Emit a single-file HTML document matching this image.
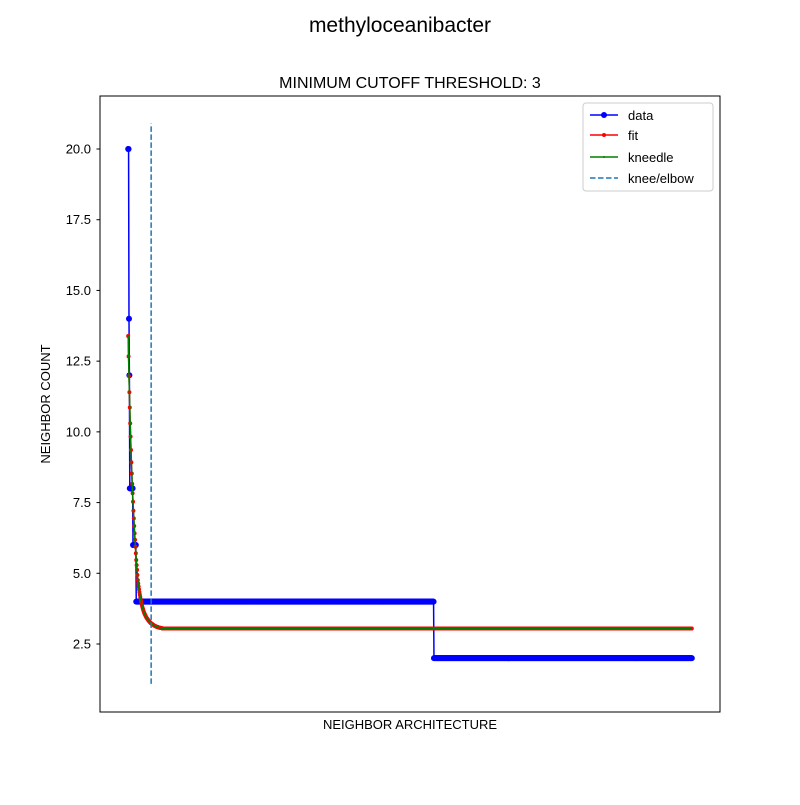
<!DOCTYPE html>
<html><head><meta charset="utf-8"><style>body{margin:0;background:#fff}svg{font-family:"Liberation Sans","DejaVu Sans",sans-serif}</style></head>
<body>
<svg id="chart" width="800" height="800" xmlns="http://www.w3.org/2000/svg">
<rect width="800" height="800" fill="#fff"/>
<text x="400" y="32" font-size="21" text-anchor="middle">methyloceanibacter</text>
<text x="410" y="88" font-size="16" text-anchor="middle">MINIMUM CUTOFF THRESHOLD: 3</text>
<g id="plot"></g>
<rect x="100" y="96" width="620" height="616" fill="none" stroke="#000" stroke-width="1"/>
<g id="yticks"></g>
<text x="410" y="729" font-size="13" text-anchor="middle">NEIGHBOR ARCHITECTURE</text>
<text transform="translate(50,404) rotate(-90)" font-size="13" text-anchor="middle">NEIGHBOR COUNT</text>
<g>
<rect x="583" y="103" width="130" height="88" rx="3" fill="#fff" fill-opacity="0.8" stroke="#ccc"/>
<g><line x1="590" y1="115" x2="618" y2="115" stroke="#0000ff" stroke-width="1.5"/><circle cx="604" cy="115" r="3" fill="#0000ff"/><text x="628" y="120" font-size="13">data</text></g>
<g><line x1="590" y1="135" x2="618" y2="135" stroke="#ff0000" stroke-width="1.5"/><circle cx="604" cy="135" r="2" fill="#ff0000"/><text x="628" y="140" font-size="13">fit</text></g>
<g><line x1="590" y1="157" x2="618" y2="157" stroke="#008000" stroke-width="1.5"/><circle cx="604" cy="157" r="1" fill="#008000"/><text x="628" y="162" font-size="13">kneedle</text></g>
<g><line x1="590" y1="178" x2="618" y2="178" stroke="#1f77b4" stroke-width="1.5" stroke-dasharray="5.5,2.5"/><text x="628" y="183" font-size="13">knee/elbow</text></g>
</g>
</svg>
<script>
const dataRunValues = [20, 14, 12, 8, 6, 4, 2];
const dataRunLengths = [2, 1, 1, 8, 8, 739, 641];
const fitHead = [13.39,12.67,11.97,11.4,10.86,10.3,9.83,9.36,8.92,8.53,8.16,7.83,7.53,7.21,6.94,6.67,6.41,6.18,5.94,5.71,5.47,5.29,5.12,4.94,4.76,4.64,4.53,4.43,4.33,4.24,4.16,4.08,4.01,3.94,3.88,3.82,3.77,3.72,3.67,3.63,3.59,3.56,3.53,3.50,3.47,3.44,3.42,3.40,3.38,3.36,3.34,3.32,3.30,3.29,3.27,3.26,3.24,3.23,3.22,3.21,3.20,3.19,3.18,3.17,3.16,3.15,3.14,3.13,3.13,3.12,3.11,3.11,3.10,3.10,3.09,3.09,3.08,3.08,3.08,3.07,3.07,3.07,3.06,3.06,3.06];
const fitPlateau = 3.05;
const kneeIndex = 57;
const kneeYRange = [1.09, 20.9];
const yTicks = [2.5, 5.0, 7.5, 10.0, 12.5, 15.0, 17.5, 20.0];

const NS = "http://www.w3.org/2000/svg";
const data = [];
dataRunValues.forEach((v, i) => { for (let k = 0; k < dataRunLengths[i]; k++) data.push(v); });
const N = data.length;
const fit = [];
for (let i = 0; i < N; i++) fit.push(i < fitHead.length ? fitHead[i] : fitPlateau);
const X0 = 100, X1 = 720, Y0 = 712, Y1 = 96;
const xMin = -0.05 * (N - 1), xMax = (N - 1) * 1.05;
const yMin = 0.096, yMax = 21.874;
const xs = i => X0 + (i - xMin) / (xMax - xMin) * (X1 - X0);
const ys = v => Y0 - (v - yMin) / (yMax - yMin) * (Y0 - Y1);
const plot = document.getElementById('plot');
function mk(tag, attrs) { const e = document.createElementNS(NS, tag); for (const k in attrs) e.setAttribute(k, attrs[k]); return e; }

let d = data.map((v, i) => (i ? 'L' : 'M') + xs(i).toFixed(2) + ' ' + ys(v).toFixed(2)).join(' ');
const dl = mk('path', { d: d, fill: 'none', stroke: '#0000ff', 'stroke-width': 1.5 });


plot.appendChild(dl);
const dm = mk('g', { fill: '#0000ff' });


data.forEach((v, i) => dm.appendChild(mk('circle', { cx: xs(i).toFixed(2), cy: ys(v).toFixed(2), r: 3 })));
plot.appendChild(dm);

d = fit.map((v, i) => (i ? 'L' : 'M') + xs(i).toFixed(2) + ' ' + ys(v).toFixed(2)).join(' ');
const fl = mk('path', { d: d, fill: 'none', stroke: '#ff0000', 'stroke-width': 1.5 });


plot.appendChild(fl);
const fm = mk('g', { fill: '#ff0000' });


fit.forEach((v, i) => fm.appendChild(mk('circle', { cx: xs(i).toFixed(2), cy: ys(v).toFixed(2), r: 2 })));
plot.appendChild(fm);
const kl = mk('path', { d: d, fill: 'none', stroke: '#008000', 'stroke-width': 1.5 });


plot.appendChild(kl);

const kv = mk('line', { x1: xs(kneeIndex), x2: xs(kneeIndex), y1: ys(kneeYRange[0]), y2: ys(kneeYRange[1]), stroke: '#1f77b4', 'stroke-width': 1.5, 'stroke-dasharray': '5.5,2.5' });


plot.appendChild(kv);

const yt = document.getElementById('yticks');
yTicks.forEach(v => {
  const y = ys(v);
  const t = mk('line', { x1: 96.5, x2: 100, y1: y, y2: y, stroke: '#000' });
  
  
  yt.appendChild(t);
  const lb = mk('text', { x: 91, y: y + 4.5, 'font-size': 13, 'text-anchor': 'end' });
  
  
  lb.textContent = v.toFixed(1);
  yt.appendChild(lb);
});
</script>
</body></html>
